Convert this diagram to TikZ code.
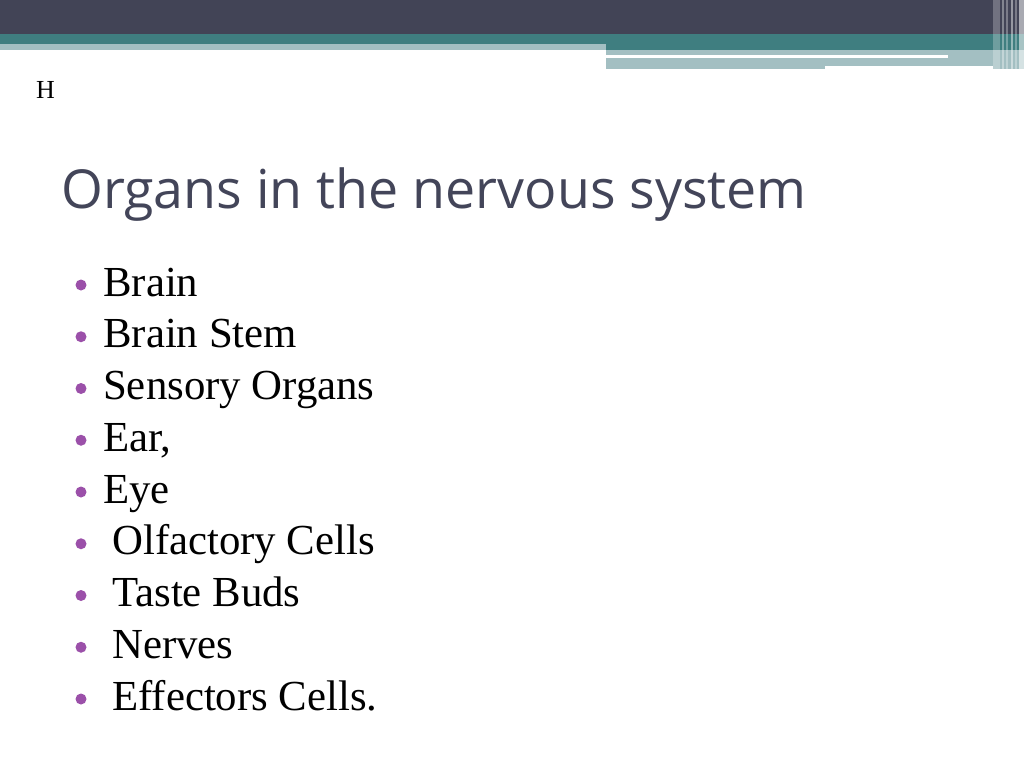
\documentclass[tikz,border=0pt]{standalone}
\usepackage{fontspec}
\setmainfont{Liberation Serif}
\newfontfamily\titlefont{Open Sans}
\definecolor{darkbar}{HTML}{424456}
\definecolor{tealbar}{HTML}{3F7E80}
\definecolor{lightteal}{HTML}{A3BFC2}
\definecolor{titlecol}{HTML}{434559}
\definecolor{bulletcol}{HTML}{9B50A9}
\begin{document}
\begin{tikzpicture}[x=1pt,y=-1pt,
  item/.style={anchor=base west,inner sep=0pt,font=\fontsize{42.8}{50}\selectfont},
  bul/.style={circle,fill=bulletcol,inner sep=0pt,minimum size=11pt},
  stripe/.style={fill=white,draw=none}]
\useasboundingbox (0,0) rectangle (1024,768);
\fill[white] (0,0) rectangle (1024,768);
% top bars
\fill[darkbar] (0,0) rectangle (1024,34);
\fill[tealbar] (0,34) rectangle (1024,44);
\fill[tealbar] (606,44) rectangle (1024,50);
\fill[lightteal] (0,44) rectangle (606,50);
\fill[lightteal] (606,50) rectangle (1024,55);
\fill[lightteal] (948,55) rectangle (1024,58);
\fill[lightteal] (606,58) rectangle (1024,66);
\fill[lightteal] (606,66) rectangle (825,69);
\fill[lightteal] (993,66) rectangle (1024,69);
% vertical stripes at right
\fill[stripe,opacity=0.25] (993,0) rectangle (1000,69);
\fill[stripe,opacity=0.35] (1002,0) rectangle (1004,69);
\fill[stripe,opacity=0.3] (1006,0) rectangle (1008,69);
\fill[stripe,opacity=0.45] (1011,0) rectangle (1013,69);
\fill[stripe,opacity=0.3] (1015,0) rectangle (1017,69);
\fill[stripe,opacity=0.55] (1019,0) rectangle (1024,69);
% H
\node[anchor=base west,inner sep=0pt,font=\fontsize{26}{30}\selectfont] (h) at (36,98) {H};
% title
\node[anchor=base west,inner sep=0pt,text=titlecol,font=\titlefont\fontsize{53.7}{60}\selectfont] (title) at (61,208) {Organs in the nervous system};
% bullets
\foreach \i/\txt/\xx in {0/Brain/103,1/Brain Stem/103,2/Sensory Organs/103,3/{Ear,}/103,4/Eye/103,5/Olfactory Cells/112,6/Taste Buds/112,7/Nerves/112,8/Effectors Cells./112}{
  \node[bul] (b\i) at (81,{285+51.75*\i}) {};
  \node[item] (t\i) at (\xx,{296+51.75*\i}) {\txt};
}
\end{tikzpicture}
\end{document}
